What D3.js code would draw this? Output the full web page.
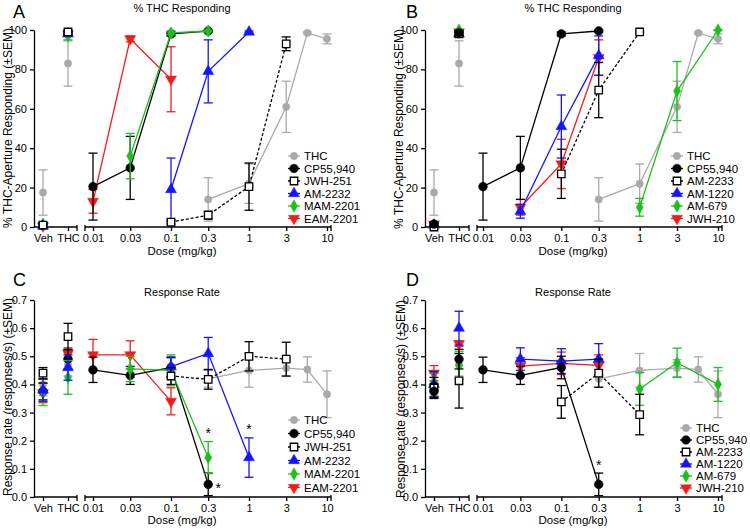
<!DOCTYPE html>
<html>
<head>
<meta charset="utf-8">
<script src="https://cdnjs.cloudflare.com/ajax/libs/d3/7.8.5/d3.min.js"></script>
<style>
  body { margin: 0; background: #fff; }
  svg { font-family: Arial, "Liberation Sans", sans-serif; }
</style>
</head>
<body>
<svg width="750" height="529"></svg>
<script>
const svg = d3.select('svg');

// x axis categories
const ctrlLabels = ['Veh', 'THC'];
const doseTicks = [0.01, 0.03, 0.1, 0.3, 1, 3, 10];
const doseLabels = ['0.01', '0.03', '0.1', '0.3', '1', '3', '10'];
const pctTicks = [0, 20, 40, 60, 80, 100];
const rateTicks = [0, 0.1, 0.2, 0.3, 0.4, 0.5, 0.6, 0.7];

// doses tested for each drug (same in top and bottom rows)
const dosesAC = [[0.3, 1, 3, 5.6, 10], [0.01, 0.03, 0.1, 0.3], [0.1, 0.3, 1, 3], [0.1, 0.3, 1], [0.03, 0.1, 0.3], [0.01, 0.03, 0.1]];
const dosesBD = [[0.3, 1, 3, 5.6, 10], [0.01, 0.03, 0.1, 0.3], [0.1, 0.3, 1], [0.03, 0.1, 0.3], [1, 3, 10], [0.03, 0.1, 0.3]];

// Panel A - % THC responding
const namesA = ['THC', 'CP55,940', 'JWH-251', 'AM-2232', 'MAM-2201', 'EAM-2201'];
const meansA = [[14, 22, 61, 98.5, 95.5], [20.5, 30, 98, 99.5], [2.5, 6, 20.5, 93], [19, 79, 99], [36, 98.5, 99.5], [13, 95.5, 75]];
const semsA = [[11, 10, 13, 0.5, 2.5], [17, 16, 1, 0.5], [1, 2, 12, 3.5], [16, 16, 0.5], [11.5, 1, 0.5], [6, 1.5, 16.5]];
const vehA = [17.5, 1, 1, 0.5, 1.5, 0.5];
const vehSemA = [11.5, 1, 1, 0.5, 1, 0.5];
const thcA = [83, 98.5, 99, 98, 97, 98];
const thcSemA = [11.5, 1, 1, 1, 2, 1];

// Panel B - % THC responding
const namesB = ['THC', 'CP55,940', 'AM-2233', 'AM-1220', 'AM-679', 'JWH-210'];
const meansB = [[14, 22, 61, 98.5, 95.5], [20.5, 30, 98, 99.5], [27, 69.5, 99], [8, 51, 87], [10, 69, 100], [10, 32, 86]];
const semsB = [[11, 10, 13, 0.5, 2.5], [17, 16, 1, 0.5], [12.5, 14, 0.5], [3.5, 16, 10], [4.5, 15, 0.3], [4, 12.5, 9]];
const vehB = [17.5, 1.5, 0, 1, 1, 1.5];
const vehSemB = [11.5, 1, 0.5, 1, 1, 1];
const thcB = [83, 98.5, 98, 98, 100, 99];
const thcSemB = [11.5, 1, 1, 1, 0.3, 1];

// Panel C - response rate
const meansC = [[0.42, 0.45, 0.458, 0.453, 0.365], [0.452, 0.432, 0.46, 0.045], [0.43, 0.418, 0.5, 0.49], [0.463, 0.51, 0.14], [0.455, 0.45, 0.14], [0.505, 0.505, 0.34]];
const semsC = [[0.03, 0.06, 0.03, 0.045, 0.083], [0.045, 0.032, 0.035, 0.04], [0.03, 0.035, 0.052, 0.06], [0.035, 0.057, 0.07], [0.045, 0.055, 0.057], [0.055, 0.05, 0.048]];
const vehC = [0.40, 0.375, 0.44, 0.38, 0.372, 0.37];
const vehSemC = [0.04, 0.03, 0.02, 0.04, 0.047, 0.035];
const thcC = [0.47, 0.49, 0.57, 0.46, 0.425, 0.51];
const thcSemC = [0.04, 0.035, 0.047, 0.045, 0.06, 0.02];
const starDosesC = [0.3, 0.3, 1];
const starValsC = [0.045, 0.2, 0.213];

// Panel D - response rate
const meansD = [[0.42, 0.45, 0.458, 0.453, 0.365], [0.452, 0.432, 0.46, 0.045], [0.338, 0.44, 0.293], [0.49, 0.483, 0.49], [0.384, 0.477, 0.4], [0.465, 0.475, 0.468]];
const semsD = [[0.03, 0.06, 0.03, 0.045, 0.083], [0.045, 0.032, 0.04, 0.04], [0.058, 0.05, 0.072], [0.04, 0.044, 0.055], [0.058, 0.052, 0.06], [0.03, 0.04, 0.037]];
const vehD = [0.40, 0.375, 0.39, 0.40, 0.41, 0.44];
const vehSemD = [0.04, 0.025, 0.035, 0.045, 0.03, 0.027];
const thcD = [0.47, 0.49, 0.413, 0.6, 0.468, 0.545];
const thcSemD = [0.04, 0.035, 0.097, 0.06, 0.05, 0.01];
const starDosesD = [0.3];
const starValsD = [0.085];

// styles by position in the legend
const styles = [
  {color: '#a9a9a9', fill: '#a9a9a9', sym: d3.symbolCircle, size: 42},
  {color: '#000', fill: '#000', sym: d3.symbolCircle, size: 60},
  {color: '#000', fill: '#fff', sym: d3.symbolSquare, size: 56, dash: '3,2'},
  {color: '#1414ff', fill: '#1414ff', sym: d3.symbolTriangle, size: 52},
  {color: '#1dbf1d', fill: '#1dbf1d', sym: d3.symbolDiamond, size: 44},
  {color: '#f21c1c', fill: '#f21c1c', sym: d3.symbolTriangle, size: 52, rot: 180}
];

function styleAxis(sel) {
  sel.attr('font-size', 11).attr('font-family', null);
  sel.selectAll('line, path').attr('stroke', '#000').attr('stroke-width', 1.3);
  sel.selectAll('text').attr('fill', '#000');
}

function marker(g, st, x, y) {
  g.append('path')
    .attr('d', d3.symbol().type(st.sym).size(st.size)())
    .attr('transform', `translate(${x},${y})` + (st.rot ? ` rotate(${st.rot})` : ''))
    .attr('fill', st.fill)
    .attr('stroke', st.color)
    .attr('stroke-width', st.fill === '#fff' ? 1.3 : 0.5);
}

function drawPanel(cfg) {
  const g = svg.append('g');
  const y = d3.scaleLinear().domain([0, cfg.yMax]).range([cfg.yBottom, cfg.yTop]);
  const x = d3.scaleLog().domain([0.01, 10]).range([cfg.x01, cfg.x10]);
  const xc = d3.scalePoint().domain(ctrlLabels).range([cfg.xVeh, cfg.xThc]);

  // y axis
  const ya = g.append('g')
    .attr('transform', `translate(${cfg.axisX},0)`)
    .call(d3.axisLeft(y).tickValues(cfg.yTicks).tickFormat(cfg.yFormat).tickSize(4).tickSizeOuter(0));
  styleAxis(ya);

  // x axis in two pieces with a break
  const xa1 = g.append('g')
    .attr('transform', `translate(0,${cfg.yBottom})`)
    .call(d3.axisBottom(xc).tickSize(4).tickSizeOuter(0));
  const xa2 = g.append('g')
    .attr('transform', `translate(0,${cfg.yBottom})`)
    .call(d3.axisBottom(x).tickValues(doseTicks).tickFormat((d, i) => doseLabels[i]).tickSize(4).tickSizeOuter(0));
  xa1.select('.domain').remove();
  xa2.select('.domain').remove();
  styleAxis(xa1);
  styleAxis(xa2);
  [[cfg.axisX, cfg.seg1End], [cfg.seg2Start, cfg.seg2End]].forEach(s => {
    g.append('line')
      .attr('x1', s[0]).attr('x2', s[1])
      .attr('y1', cfg.yBottom).attr('y2', cfg.yBottom)
      .attr('stroke', '#000').attr('stroke-width', 1.4);
  });
  [cfg.seg1End, cfg.seg2Start, cfg.seg2End].forEach(px => {
    g.append('line')
      .attr('x1', px).attr('x2', px)
      .attr('y1', cfg.yBottom - 2).attr('y2', cfg.yBottom + 4)
      .attr('stroke', '#000').attr('stroke-width', 1.3);
  });

  // series, drawn in the stacking order seen in the figure
  cfg.drawOrder.forEach(i => {
    const st = styles[i];
    const pts = cfg.doses[i].map((d, j) => ({x: x(d), m: cfg.means[i][j], s: cfg.sems[i][j]}));
    const ctrl = [
      {x: xc('Veh'), m: cfg.veh[i], s: cfg.vehSem[i]},
      {x: xc('THC'), m: cfg.thc[i], s: cfg.thcSem[i]}
    ];
    const all = ctrl.concat(pts);

    all.forEach(p => {
      const lo = y(Math.max(0, p.m - p.s));
      const hi = y(Math.min(cfg.yMax, p.m + p.s));
      g.append('line').attr('x1', p.x).attr('x2', p.x).attr('y1', lo).attr('y2', hi)
        .attr('stroke', st.color).attr('stroke-width', 1.3);
      [lo, hi].forEach(v => {
        g.append('line').attr('x1', p.x - 4.5).attr('x2', p.x + 4.5).attr('y1', v).attr('y2', v)
          .attr('stroke', st.color).attr('stroke-width', 1.3);
      });
    });

    g.append('path')
      .datum(pts)
      .attr('d', d3.line().x(d => d.x).y(d => y(d.m)))
      .attr('fill', 'none')
      .attr('stroke', st.color)
      .attr('stroke-width', 1.3)
      .attr('stroke-dasharray', st.dash || null);

    all.forEach(p => marker(g, st, p.x, y(p.m)));
  });

  // significance stars
  cfg.starDoses.forEach((d, i) => {
    const right = cfg.starRight && cfg.starRight[i];
    g.append('text')
      .attr('x', x(d) + (right ? 10 : 0))
      .attr('y', y(cfg.starVals[i]) + (right ? 9 : -3))
      .attr('text-anchor', 'middle')
      .attr('font-size', 14)
      .text('*');
  });

  // legend
  cfg.names.forEach((name, i) => {
    const st = styles[i];
    const ly = cfg.legY + i * cfg.legStep;
    g.append('line')
      .attr('x1', cfg.legX - 6).attr('x2', cfg.legX + 6)
      .attr('y1', ly).attr('y2', ly)
      .attr('stroke', st.color).attr('stroke-width', 1.3)
      .attr('stroke-dasharray', st.dash || null);
    marker(g, st, cfg.legX, ly);
    g.append('text')
      .attr('x', cfg.legX + 10).attr('y', ly).attr('dy', '0.36em')
      .attr('font-size', 11.5)
      .text(name);
  });

  // texts
  g.append('text').attr('x', cfg.titleX).attr('y', cfg.titleY)
    .attr('text-anchor', 'middle').attr('font-size', 11).text(cfg.title);
  g.append('text').attr('x', cfg.letterX).attr('y', cfg.letterY)
    .attr('font-size', 18).text(cfg.letter);
  g.append('text').attr('x', cfg.titleX).attr('y', cfg.xLabelY)
    .attr('text-anchor', 'middle').attr('font-size', 11.5).text('Dose (mg/kg)');
  g.append('text')
    .attr('transform', `translate(${cfg.yLabelX},${cfg.yLabelY}) rotate(-90)`)
    .attr('text-anchor', 'middle').attr('font-size', 12).text(cfg.yLabel);
}

const leftX = {axisX: 34, xVeh: 43, xThc: 68, seg1End: 77, seg2Start: 85, x01: 93, x10: 327, seg2End: 331, titleX: 182,
  drawOrder: [0, 5, 1, 4, 3, 2]};
const rightX = {axisX: 425, xVeh: 434, xThc: 459, seg1End: 469, seg2Start: 477, x01: 483, x10: 718, seg2End: 722, titleX: 573,
  drawOrder: [0, 5, 4, 3, 2, 1]};
const topY = {yTop: 30, yBottom: 227, yMax: 100, yTicks: pctTicks, yFormat: d3.format('d'),
  titleY: 12, letterY: 18, xLabelY: 255, title: '% THC Responding', yLabel: '% THC-Aperture Responding (\u00B1SEM)'};
const botY = {yTop: 300, yBottom: 497, yMax: 0.7, yTicks: rateTicks, yFormat: d3.format('.1f'),
  titleY: 296, letterY: 286, xLabelY: 524, title: 'Response Rate', yLabel: 'Response rate (responses/s) (\u00B1SEM)'};

drawPanel(Object.assign({}, leftX, topY, {
  letter: 'A', letterX: 13, yLabelX: 12, yLabelY: 128,
  names: namesA, doses: dosesAC, means: meansA, sems: semsA,
  veh: vehA, vehSem: vehSemA, thc: thcA, thcSem: thcSemA,
  starDoses: [], starVals: [],
  legX: 294, legY: 156, legStep: 12.5
}));

drawPanel(Object.assign({}, rightX, topY, {
  letter: 'B', letterX: 406, yLabelX: 403, yLabelY: 129,
  names: namesB, doses: dosesBD, means: meansB, sems: semsB,
  veh: vehB, vehSem: vehSemB, thc: thcB, thcSem: thcSemB,
  starDoses: [], starVals: [],
  legX: 677, legY: 156, legStep: 12.5
}));

drawPanel(Object.assign({}, leftX, botY, {
  letter: 'C', letterX: 13, yLabelX: 12, yLabelY: 397,
  names: namesA, doses: dosesAC, means: meansC, sems: semsC,
  veh: vehC, vehSem: vehSemC, thc: thcC, thcSem: thcSemC,
  starDoses: starDosesC, starVals: starValsC, starRight: [true, false, false],
  legX: 294, legY: 420, legStep: 13.5
}));

drawPanel(Object.assign({}, rightX, botY, {
  letter: 'D', letterX: 406, yLabelX: 405, yLabelY: 399,
  names: namesB, doses: dosesBD, means: meansD, sems: semsD,
  veh: vehD, vehSem: vehSemD, thc: thcD, thcSem: thcSemD,
  starDoses: starDosesD, starVals: starValsD,
  legX: 686, legY: 428, legStep: 12
}));
</script>
</body>
</html>
